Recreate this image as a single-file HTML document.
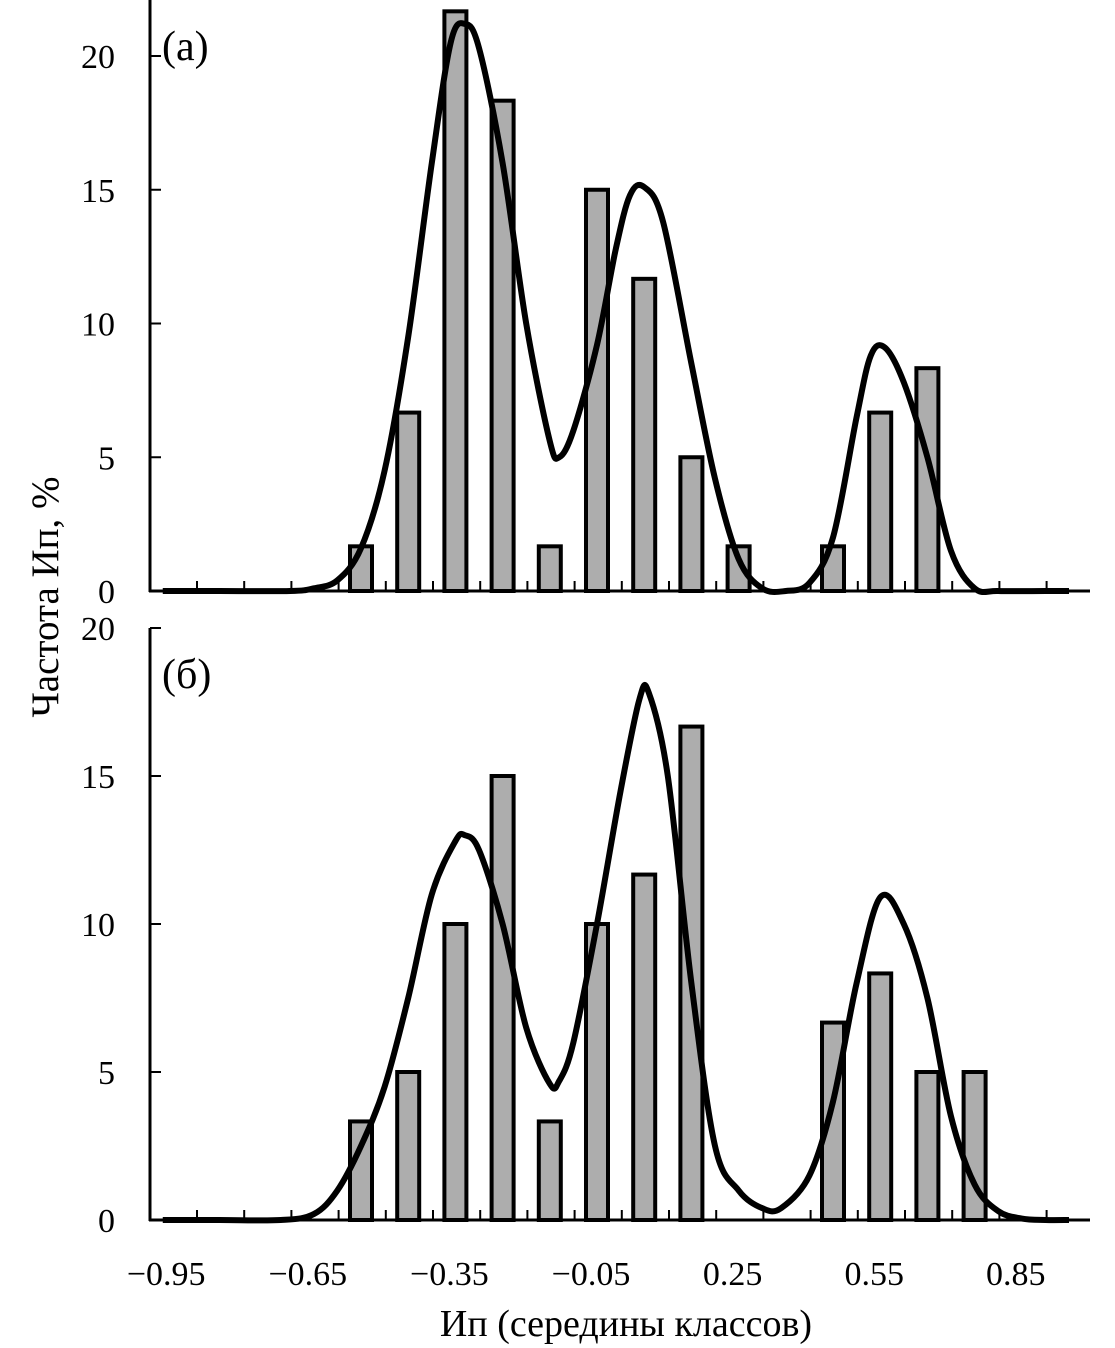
<!DOCTYPE html>
<html><head><meta charset="utf-8"><style>
html,body{margin:0;padding:0;background:#fff}
svg{display:block}
text{font-family:"Liberation Serif",serif;fill:#000}
</style></head><body>
<svg id="chart" width="1115" height="1348" viewBox="0 0 1115 1348" xmlns="http://www.w3.org/2000/svg">
<g id="gA"></g>
<g id="gB"></g>
<text x="0" y="0" font-size="39" text-anchor="middle" transform="translate(58,597) rotate(-90)">Частота Ип, %</text>
<text x="626" y="1336" font-size="38" text-anchor="middle">Ип (середины классов)</text>
</svg>
<script>
const categories = [-0.55,-0.45,-0.35,-0.25,-0.15,-0.05,0.05,0.15,0.25,0.35,0.45,0.55,0.65,0.75];
const barsA = [1.67,6.67,21.67,18.33,1.67,15,11.67,5,1.67,0,1.67,6.67,8.33,0];
const barsB = [3.33,5,10,15,3.33,10,11.67,16.67,0,0,6.67,8.33,5,5];
const curveX_A = [-0.97,-0.85,-0.7,-0.65,-0.6,-0.55,-0.5,-0.45,-0.4,-0.36,-0.33,-0.3,-0.25,-0.2,-0.15,-0.13,-0.1,-0.05,-0.01,0.02,0.05,0.09,0.15,0.2,0.25,0.3,0.35,0.4,0.45,0.5,0.53,0.56,0.6,0.65,0.7,0.75,0.8,0.9,0.95];
const curveY_A = [0,0,0,0.1,0.4,1.6,4.5,9.5,16,20.5,21.2,20.3,16,10,5.6,5.0,6,9.2,12.8,14.8,15.1,13.8,8.5,4.2,1.2,0.1,0,0.3,2,6.5,8.8,9.1,7.8,5,1.5,0.1,0,0,0];
const curveX_B = [-0.97,-0.85,-0.72,-0.65,-0.6,-0.55,-0.5,-0.45,-0.4,-0.35,-0.33,-0.3,-0.25,-0.2,-0.15,-0.13,-0.1,-0.05,0,0.04,0.06,0.1,0.15,0.2,0.25,0.3,0.34,0.4,0.45,0.5,0.55,0.6,0.65,0.7,0.75,0.8,0.85,0.9,0.95];
const curveY_B = [0,0,0,0.2,1,2.5,4.5,7.5,11,12.8,13,12.5,10,6.5,4.6,4.7,6,10,14.5,17.6,17.8,15,8,2.5,1,0.4,0.4,1.5,4,8,10.9,10,7.5,3.5,1.2,0.3,0.05,0,0];
const yTicks = [0,5,10,15,20];
const xLabels = ["−0.95","−0.65","−0.35","−0.05","0.25","0.55","0.85"];
const xLabelVals = [-0.95,-0.65,-0.35,-0.05,0.25,0.55,0.85];

const NS="http://www.w3.org/2000/svg";
function xS(v){return 597+(v+0.05)*472;}
function mk(tag,attrs,parent){const e=document.createElementNS(NS,tag);for(const k in attrs)e.setAttribute(k,attrs[k]);parent.appendChild(e);return e;}
function smooth(pts){let d="M"+pts[0][0]+","+pts[0][1];for(let i=0;i<pts.length-1;i++){const p0=pts[Math.max(i-1,0)],p1=pts[i],p2=pts[i+1],p3=pts[Math.min(i+2,pts.length-1)];const c1x=p1[0]+(p2[0]-p0[0])/6,c1y=p1[1]+(p2[1]-p0[1])/6,c2x=p2[0]-(p3[0]-p1[0])/6,c2y=p2[1]-(p3[1]-p1[1])/6;d+=` C${c1x},${c1y} ${c2x},${c2y} ${p2[0]},${p2[1]}`;}return d;}
function panel(g,y0,y20,top,bars,cx,cy,label,showX){
  const yS=v=>y0-(v/20)*(y0-y20);
  for(let i=0;i<19;i++){const x=197+i*47.2;const t=mk('line',{x1:x,x2:x,y1:y0,y2:y0-10,stroke:'#000','stroke-width':2},g);
    
    }
  bars.forEach((v,i)=>{if(v<=0)return;const x=xS(categories[i]);const r=mk('rect',{x:x-11,y:yS(v),width:22,height:y0-yS(v),fill:'#adadad',stroke:'#000','stroke-width':4},g);
    
    });
  const pts=cx.map((v,i)=>[xS(v),yS(cy[i])]);
  const p=mk('path',{d:smooth(pts),fill:'none',stroke:'#000','stroke-width':6,'stroke-linejoin':'round'},g);
  
  
  const ya=mk('line',{x1:150,x2:150,y1:top,y2:y0+1,stroke:'#000','stroke-width':3},g);
  
  
  const xa=mk('line',{x1:149,x2:1090,y1:y0,y2:y0,stroke:'#000','stroke-width':3},g);
  
  
  yTicks.forEach(v=>{const y=yS(v);const t=mk('line',{x1:150,x2:161,y1:y,y2:y,stroke:'#000','stroke-width':2},g);
    
    
    const tx=mk('text',{x:115,y:y+12,'font-size':34,'text-anchor':'end'},g);tx.textContent=v;
    
    });
  const lb=mk('text',{x:162,y:top+60,'font-size':42},g);lb.textContent=label;
  
  
  if(showX){xLabelVals.forEach((v,i)=>{const tx=mk('text',{x:xS(v)-6,y:y0+65,'font-size':34,'text-anchor':'middle'},g);tx.textContent=xLabels[i];
    
    });}
}
panel(document.getElementById('gA'),591,56,0,barsA,curveX_A,curveY_A,'(a)',false);
panel(document.getElementById('gB'),1220,628,628,barsB,curveX_B,curveY_B,'(б)',true);
</script>
</body></html>
